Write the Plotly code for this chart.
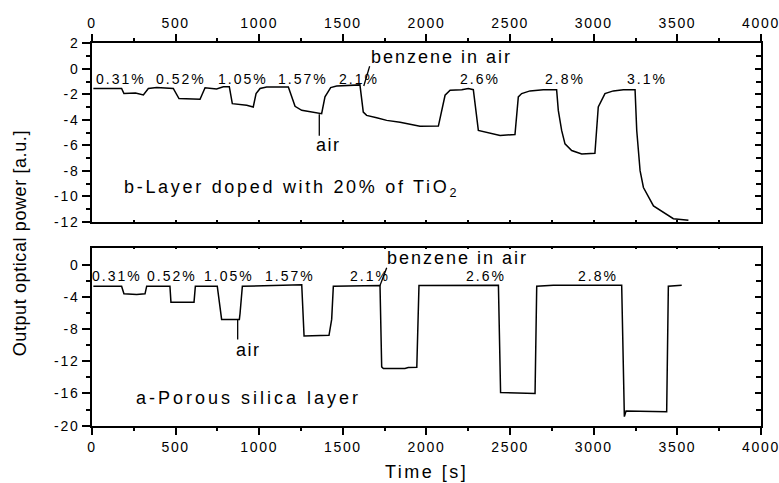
import plotly.graph_objects as go

# ---- data -------------------------------------------------------------
# b-layer (porous silica doped with 20% TiO2): time [s] / output power [a.u.]
top_t = [8, 177, 191, 260, 307, 337, 387, 486, 520, 646, 676, 745, 785, 821,
         839, 925, 964, 981, 1005, 1044, 1174, 1214, 1254, 1323, 1373, 1393,
         1427, 1463, 1602, 1622, 1642, 1702, 1762, 1842, 1961, 2071, 2091,
         2111, 2141, 2211, 2250, 2280, 2310, 2360, 2440, 2529, 2549, 2569,
         2619, 2698, 2778, 2788, 2808, 2828, 2868, 2928, 3007, 3027, 3067,
         3117, 3177, 3247, 3257, 3277, 3297, 3357, 3416, 3476, 3566]
top_p = [-1.54, -1.54, -1.94, -1.90, -2.05, -1.54, -1.47, -1.54, -2.33, -2.38,
         -1.48, -1.58, -1.40, -1.40, -2.73, -2.86, -2.99, -1.94, -1.54, -1.42,
         -1.42, -2.94, -3.25, -3.44, -3.52, -2.20, -1.47, -1.35, -1.26, -3.39,
         -3.65, -3.83, -4.04, -4.18, -4.50, -4.49, -3.26, -2.07, -1.68, -1.64,
         -1.55, -1.64, -4.83, -4.96, -5.22, -5.15, -2.20, -1.94, -1.73, -1.64,
         -1.64, -3.26, -4.83, -5.88, -6.40, -6.67, -6.62, -2.99, -1.94, -1.73,
         -1.64, -1.64, -4.83, -7.98, -9.30, -10.74, -11.27, -11.74, -11.87]

# a-layer (porous silica)
bot_t = [8, 177, 191, 267, 317, 327, 466, 472, 610, 618, 749, 765, 775, 881,
         885, 899, 1254, 1268, 1417, 1433, 1443, 1722, 1732, 1742, 1871, 1891,
         1942, 1955, 2430, 2443, 2649, 2659, 2758, 3167, 3183, 3193, 3436,
         3446, 3526]
bot_p = [-2.68, -2.68, -3.63, -3.70, -3.63, -2.68, -2.68, -4.66, -4.66, -2.68,
         -2.68, -5.49, -6.80, -6.80, -6.10, -2.68, -2.51, -8.86, -8.78, -6.80,
         -2.68, -2.60, -12.70, -12.90, -12.90, -12.78, -12.74, -2.60, -2.55,
         -15.87, -16.00, -2.68, -2.55, -2.55, -18.87, -18.18, -18.27, -2.68,
         -2.55]

# benzene concentration labels
top_pct_labels = ["0.31%", "0.52%", "1.05%", "1.57%", "2.1%", "2.6%", "2.8%", "3.1%"]
top_pct_t = [172, 531, 900, 1264, 1595, 2320, 2830, 3320]
top_pct_y = -0.76
bot_pct_labels = ["0.31%", "0.52%", "1.05%", "1.57%", "2.1%", "2.6%", "2.8%"]
bot_pct_t = [148, 479, 817, 1184, 1662, 2357, 3025]
bot_pct_y = -1.45

# pointer lines for the "air" / "benzene in air" callouts
top_air_t, top_air_p = [1359, 1359], [-3.55, -5.25]
top_benz_t, top_benz_p = [1625, 1660], [-1.35, 0.2]
bot_air_t, bot_air_p = [871, 871], [-6.8, -9.3]
bot_benz_t, bot_benz_p = [1722, 1762], [-2.6, -0.4]

# axis ticks
x_ticks = [0, 500, 1000, 1500, 2000, 2500, 3000, 3500, 4000]
x_minor = [250, 750, 1250, 1750, 2250, 2750, 3250, 3750]
top_y_ticks = [2, 0, -2, -4, -6, -8, -10, -12]
top_y_minor = [1, -1, -3, -5, -7, -9, -11]
bot_y_ticks = [0, -4, -8, -12, -16, -20]
bot_y_minor = [-2, -6, -10, -14, -18]

# ---- styling helpers --------------------------------------------------
FONT = "Liberation Sans, Arial, sans-serif"
LW = 1.5


def spaced(s, ls=1.7):
    return f'<span style="letter-spacing:{ls}px">{s}</span>'


fig = go.Figure()

line = dict(color="black", width=LW)
fig.add_trace(go.Scatter(x=top_t, y=top_p, mode="lines", line=line,
                         xaxis="x2", yaxis="y2", hoverinfo="skip"))
fig.add_trace(go.Scatter(x=bot_t, y=bot_p, mode="lines", line=line,
                         xaxis="x", yaxis="y", hoverinfo="skip"))
thin = dict(color="black", width=1.3)
fig.add_trace(go.Scatter(x=top_air_t, y=top_air_p, mode="lines", line=thin,
                         xaxis="x2", yaxis="y2", hoverinfo="skip"))
fig.add_trace(go.Scatter(x=top_benz_t, y=top_benz_p, mode="lines", line=thin,
                         xaxis="x2", yaxis="y2", hoverinfo="skip"))
fig.add_trace(go.Scatter(x=bot_air_t, y=bot_air_p, mode="lines", line=thin,
                         xaxis="x", yaxis="y", hoverinfo="skip"))
fig.add_trace(go.Scatter(x=bot_benz_t, y=bot_benz_p, mode="lines", line=thin,
                         xaxis="x", yaxis="y", hoverinfo="skip"))
# empty traces so the mirrored (inside-tick) axes get drawn
for xa, ya in [("x3", "y"), ("x4", "y2"), ("x", "y3"), ("x2", "y4")]:
    fig.add_trace(go.Scatter(x=[], y=[], xaxis=xa, yaxis=ya, hoverinfo="skip"))

XDOM = [0.1181, 0.9769]
TOP_DOM = [0.5404, 0.9104]
BOT_DOM = [0.1186, 0.4872]
tickfont = dict(family=FONT, size=14, color="black")

base_axis = dict(showgrid=False, zeroline=False, showline=True,
                 linecolor="black", linewidth=LW, tickcolor="black",
                 tickwidth=LW, tickfont=tickfont, fixedrange=True,
                 automargin=False, ticklabeloverflow="allow")


def minor_ticks(vals, direction, length):
    return dict(tickmode="array", tickvals=vals, ticks=direction,
                ticklen=length, tickcolor="black", tickwidth=LW)


def xaxis(**kw):
    d = dict(base_axis, domain=XDOM, range=[0, 4000], tickmode="array",
             tickvals=x_ticks, ticktext=[spaced(v) for v in x_ticks],
             ticks="outside", ticklen=8,
             minor=minor_ticks(x_minor, "outside", 4))
    d.update(kw)
    return d


def yaxis(rng, dom, major_vals, minor_vals, **kw):
    d = dict(base_axis, domain=dom, range=rng, tickmode="array",
             tickvals=major_vals, ticktext=[spaced(v) for v in major_vals],
             ticks="outside", ticklen=8,
             minor=minor_ticks(minor_vals, "outside", 4))
    d.update(kw)
    return d


fig.update_layout(
    width=779, height=483,
    margin=dict(l=0, r=0, t=0, b=0, autoexpand=False),
    paper_bgcolor="white", plot_bgcolor="white",
    showlegend=False,
    font=dict(family=FONT, color="black"),
    xaxis=xaxis(anchor="y"),
    yaxis=yaxis([-20, 2.1], BOT_DOM, bot_y_ticks, bot_y_minor, anchor="x"),
    xaxis2=xaxis(anchor="y2", side="top"),
    yaxis2=yaxis([-12, 2], TOP_DOM, top_y_ticks, top_y_minor, anchor="x2"),
    xaxis3=xaxis(anchor="y", side="top", overlaying="x",
                 showticklabels=False, ticks="inside", ticklen=2,
                 minor=minor_ticks(x_minor, "inside", 2)),
    xaxis4=xaxis(anchor="y2", side="bottom", overlaying="x2",
                 showticklabels=False, ticks="inside", ticklen=2,
                 minor=minor_ticks(x_minor, "inside", 2)),
    yaxis3=yaxis([-20, 2.1], BOT_DOM, bot_y_ticks, bot_y_minor, anchor="x",
                 side="right", overlaying="y", showticklabels=False,
                 ticks="inside", ticklen=6,
                 minor=minor_ticks(bot_y_minor, "inside", 5)),
    yaxis4=yaxis([-12, 2], TOP_DOM, top_y_ticks, top_y_minor, anchor="x2",
                 side="right", overlaying="y2", showticklabels=False,
                 ticks="inside", ticklen=6,
                 minor=minor_ticks(top_y_minor, "inside", 5)),
)

ann = []
pct_font = dict(family=FONT, size=14, color="black")
for lab, t in zip(top_pct_labels, top_pct_t):
    ann.append(dict(x=t, y=top_pct_y, xref="x2", yref="y2", text=spaced(lab, 2),
                    showarrow=False, font=pct_font))
for lab, t in zip(bot_pct_labels, bot_pct_t):
    ann.append(dict(x=t, y=bot_pct_y, xref="x", yref="y", text=spaced(lab, 2),
                    showarrow=False, font=pct_font))

big = dict(family=FONT, size=18, color="black")
ann += [
    dict(x=1417, y=-6.0, xref="x2", yref="y2", text=spaced("air", 1.5),
         showarrow=False, font=big),
    dict(x=2088, y=0.95, xref="x2", yref="y2", text=spaced("benzene in air", 2),
         showarrow=False, font=big),
    dict(x=937, y=-10.55, xref="x", yref="y", text=spaced("air", 1.5),
         showarrow=False, font=big),
    dict(x=2185, y=0.85, xref="x", yref="y", text=spaced("benzene in air", 2),
         showarrow=False, font=big),
    dict(x=178, y=-9.35, xref="x2", yref="y2", xanchor="left",
         text=spaced("b-Layer doped with 20% of TiO<sub>2</sub>", 2.7),
         showarrow=False, font=big),
    dict(x=251, y=-16.6, xref="x", yref="y", xanchor="left",
         text=spaced("a-Porous silica layer", 3),
         showarrow=False, font=big),
    dict(x=0.5477, y=1 - 471.5 / 483, xref="paper", yref="paper",
         xanchor="center", yanchor="middle",
         text=spaced("Time [s]", 2.5), showarrow=False, font=big),
    dict(x=20 / 779, y=1 - 243.3 / 483, xref="paper", yref="paper",
         xanchor="center", yanchor="middle",
         text=spaced("Output optical power [a.u.]", 0.6), textangle=-90,
         showarrow=False, font=dict(family=FONT, size=18, color="black")),
]
fig.update_layout(annotations=ann)

fig.write_html("out.html")
